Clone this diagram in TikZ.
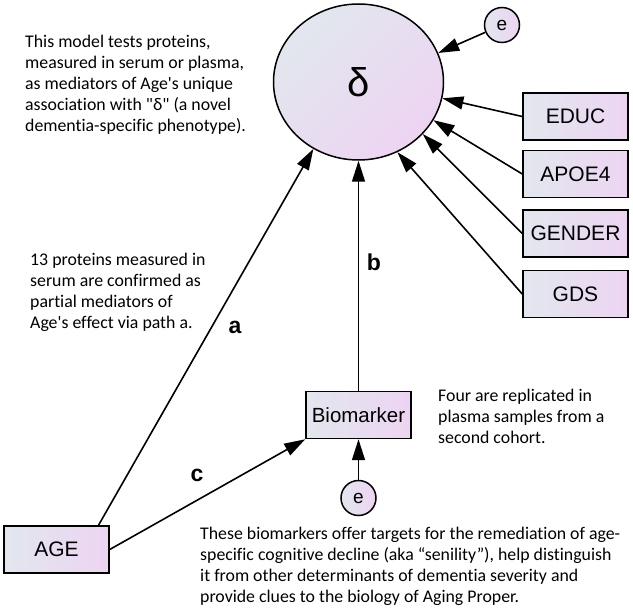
\documentclass[tikz,border=0pt]{standalone}
\usepackage{fontspec}
\newfontfamily\notefont{Carlito}[Ligatures=NoCommon]
\newfontfamily\boxfont{Liberation Sans}
\usetikzlibrary{arrows.meta,positioning,shapes.geometric}
\definecolor{ShadeLeft}{RGB}{226,231,238}
\definecolor{ShadeRight}{RGB}{237,212,242}

\begin{document}
\begin{tikzpicture}[x=1pt,y=-1pt,
    obsvar/.style={draw, line width=1.5pt, left color=ShadeLeft, right color=ShadeRight,
      minimum width=105pt, minimum height=47pt, inner sep=0pt, font=\boxfont\fontsize{21}{24}\selectfont},
    errvar/.style={circle, draw, line width=1.5pt, left color=ShadeLeft, right color=ShadeRight,
      minimum size=35pt, inner sep=0pt, font=\boxfont\fontsize{19}{22}\selectfont},
    effect/.style={line width=1.6pt, -{Triangle[length=21pt,width=13pt]}},
    pathlbl/.style={font=\boxfont\bfseries\fontsize{23}{26}\selectfont},
    note/.style={anchor=north west, align=left, inner sep=0pt, font=\notefont\fontsize{17.8}{21}\selectfont}]
  \useasboundingbox (0,0) rectangle (633,612);
  % latent outcome and its error
  \node[ellipse, draw, line width=1.5pt, left color=ShadeLeft, right color=ShadeRight, shading angle=45,
    minimum width=170pt, minimum height=156pt, font=\boxfont\fontsize{40}{40}\selectfont] (delta) at (358.5,82) {δ};
  \node[errvar] (etop) at (502,25) {e};
  % covariates
  \node[obsvar] (educ) at (575.5,116.5) {EDUC};
  \node[obsvar] (apoe) at (575.5,174) {APOE4};
  \node[obsvar] (gender) at (575.5,233.5) {GENDER};
  \node[obsvar] (gds) at (575.5,294) {GDS};
  % mediator and exposure
  \node[obsvar, font=\boxfont\fontsize{20.5}{24}\selectfont] (bio) at (358.5,415) {Biomarker};
  \node[errvar] (ebot) at (358.5,498) {e};
  \node[obsvar] (age) at (56.5,549.5) {AGE};

  \draw[effect] (etop) -- (delta.20);
  \draw[effect] (educ.west) -- (delta.-11);
  \draw[effect] (apoe.west) -- (delta.-27);
  \draw[effect] (gender.west) -- (delta.-39);
  \draw[effect] (gds.west) -- (delta.-61);
  \draw[effect] (age.30) -- (delta.236);
  \draw[effect] (bio.north) -- (delta.south);
  \draw[effect] (age.east) -- (bio.south west);
  \draw[effect] (ebot) -- (bio.south);

  \node[pathlbl] (lbla) at (235,327) {a};
  \node[pathlbl] (lblb) at (374,262) {b};
  \node[pathlbl] (lblc) at (197,475) {c};

  \node[note] (txtmodel) at (25,35) {This model tests proteins,\\measured in serum or plasma,\\as mediators of Age's unique\\association with "δ" (a novel\\dementia-specific phenotype).};
  \node[note] (txtserum) at (30,253) {13 proteins measured in\\serum are confirmed as\\partial mediators of\\Age's effect via path a.};
  \node[note] (txtplasma) at (438,389) {Four are replicated in\\plasma samples from a\\second cohort.};
  \node[note] (txttargets) at (200,527) {These biomarkers offer targets for the remediation of age-\\specific cognitive decline (aka “senility”), help distinguish\\it from other determinants of dementia severity and\\provide clues to the biology of Aging Proper.};
\end{tikzpicture}
\end{document}
